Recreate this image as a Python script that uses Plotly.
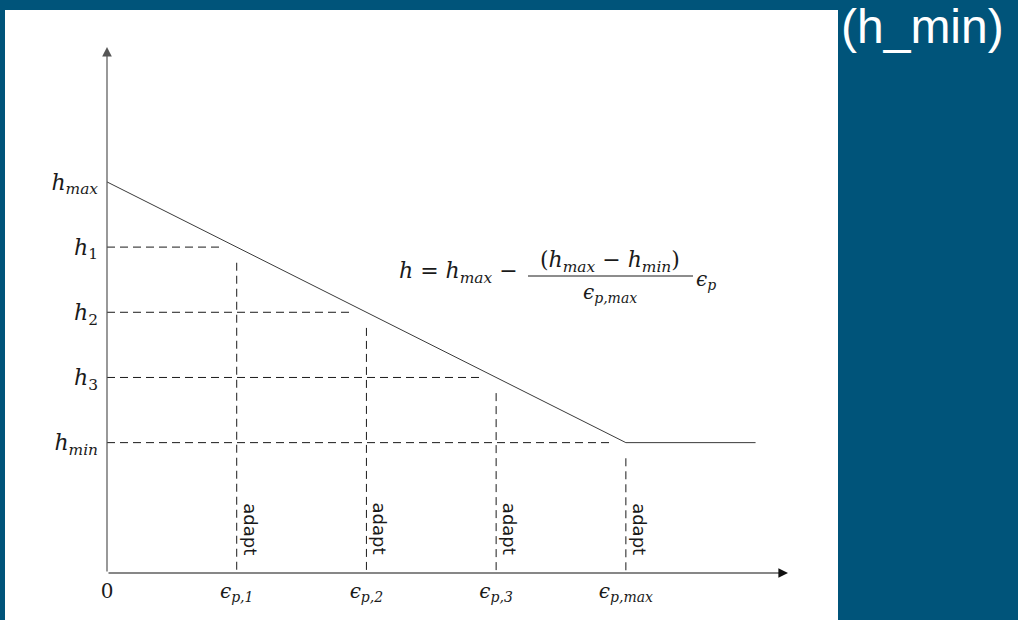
import plotly.graph_objects as go

# Plastic strain values at which the step size is adapted (x) and step sizes (y)
eps_vals = [0, 1, 2, 3, 4]
eps_ticktext = [
    "0",
    "<i>ϵ</i><sub><i>p,1</i></sub>",
    "<i>ϵ</i><sub><i>p,2</i></sub>",
    "<i>ϵ</i><sub><i>p,3</i></sub>",
    "<i>ϵ</i><sub><i>p,max</i></sub>",
]
h_vals = [6, 5, 4, 3, 2]  # h_max, h1, h2, h3, h_min
h_ticktext = [
    "<i>h</i><sub><i>max</i></sub>",
    "<i>h</i><sub>1</sub>",
    "<i>h</i><sub>2</sub>",
    "<i>h</i><sub>3</sub>",
    "<i>h</i><sub><i>min</i></sub>",
]
adapt_eps = [1, 2, 3, 4]
adapt_h = [5, 4, 3, 2]
eps_end = 5.0

# plot-area geometry (pixels)
W, H = 1018, 620
L, R, T, B = 107, 788, 47, 573
X_MAX = 5.25
PX_X = (R - L) / X_MAX
Y_MAX = 8.07
PX_Y = (B - T) / Y_MAX


def dx(p):
    return (p - L) / PX_X


def dy(p):
    return (B - p) / PX_Y


def paper_x(p):
    return (p - L) / (R - L)


def paper_y(p):
    return (B - p) / (B - T)


BLUE = "#00547a"
INK = "#1a1a1a"
SERIF = "DejaVu Serif"

fig = go.Figure()

# step size law: linear decrease down to h_min, then constant
fig.add_trace(go.Scatter(
    x=[0, eps_vals[-1], eps_end], y=[h_vals[0], h_vals[-1], h_vals[-1]],
    mode="lines", line=dict(color="#3a3a3a", width=1), hoverinfo="skip",
))

GAP_X, GAP_Y = 0.11, 0.24
for e, h in zip(adapt_eps, adapt_h):
    fig.add_trace(go.Scatter(
        x=[0, e - GAP_X], y=[h, h], mode="lines",
        line=dict(color=INK, width=1, dash="8px,5px"), hoverinfo="skip",
    ))
    fig.add_trace(go.Scatter(
        x=[e, e], y=[h - GAP_Y, 0], mode="lines",
        line=dict(color=INK, width=1, dash="8px,5px"), hoverinfo="skip",
    ))

ann = []
# axes with arrow heads
ann.append(dict(x=X_MAX, y=0, ax=0, ay=0, xref="x", yref="y", axref="x", ayref="y",
                text="", showarrow=True, arrowhead=2, arrowsize=1.6, arrowwidth=1.2,
                arrowcolor="#111111", standoff=0, startstandoff=0))
ann.append(dict(x=0, y=Y_MAX, ax=0, ay=0, xref="x", yref="y", axref="x", ayref="y",
                text="", showarrow=True, arrowhead=2, arrowsize=1.6, arrowwidth=1.2,
                arrowcolor="#555555", standoff=0, startstandoff=0))

# axis names
ann.append(dict(x=dx(105), y=dy(27), xref="x", yref="y", text="<i>h</i>",
                showarrow=False, font=dict(family=SERIF, size=18, color=INK)))
ann.append(dict(x=dx(797), y=dy(573), xref="x", yref="y", xanchor="left",
                text="<i>ϵ</i><sub><i>p</i></sub>",
                showarrow=False, font=dict(family=SERIF, size=20, color=INK)))

# "adapt" markers beside each vertical line
for e in adapt_eps:
    ann.append(dict(x=e, y=dy(529), xref="x", yref="y", xshift=14, text="adapt",
                    textangle=90, showarrow=False,
                    font=dict(family="DejaVu Sans", size=18, color=INK)))

# formula h = h_max - (h_max - h_min)/eps_p,max * eps_p
FS = 22
ann.append(dict(x=dx(520), y=dy(272), xref="x", yref="y", xanchor="right",
                text="<i>h</i> = <i>h</i><sub><i>max</i></sub> −",
                showarrow=False, font=dict(family=SERIF, size=FS, color=INK)))
ann.append(dict(x=dx(610), y=dy(261), xref="x", yref="y",
                text="(<i>h</i><sub><i>max</i></sub> − <i>h</i><sub><i>min</i></sub>)",
                showarrow=False, font=dict(family=SERIF, size=FS, color=INK)))
ann.append(dict(x=dx(610), y=dy(293), xref="x", yref="y",
                text="<i>ϵ</i><sub><i>p,max</i></sub>",
                showarrow=False, font=dict(family=SERIF, size=FS - 2, color=INK)))
ann.append(dict(x=dx(694), y=dy(280), xref="x", yref="y", xanchor="left",
                text="<i>ϵ</i><sub><i>p</i></sub>",
                showarrow=False, font=dict(family=SERIF, size=FS - 2, color=INK)))

# slide title remnant
ann.append(dict(x=paper_x(1006), y=paper_y(26), xref="paper", yref="paper",
                xanchor="right", yanchor="middle", text="(h_min)", showarrow=False,
                font=dict(family="Liberation Sans, Arial, sans-serif", size=48,
                          color="white")))

shapes = [
    # white figure panel
    dict(type="rect", xref="paper", yref="paper", layer="below",
         x0=paper_x(5), x1=paper_x(838), y0=paper_y(640), y1=paper_y(10),
         fillcolor="white", line=dict(width=0)),
    # fraction bar
    dict(type="line", xref="x", yref="y", x0=dx(528), x1=dx(693), y0=dy(276), y1=dy(276),
         line=dict(color=INK, width=1)),
]

fig.update_layout(
    width=W, height=H,
    margin=dict(l=L, r=W - R, t=T, b=H - B),
    paper_bgcolor=BLUE, plot_bgcolor="rgba(0,0,0,0)",
    showlegend=False,
    annotations=ann, shapes=shapes,
    xaxis=dict(range=[0, X_MAX], tickvals=eps_vals, ticktext=eps_ticktext,
               showgrid=False, zeroline=False, showline=False, ticks="",
               ticklabelstandoff=4,
               tickfont=dict(family=SERIF, size=20, color=INK)),
    yaxis=dict(range=[0, Y_MAX], tickvals=h_vals, ticktext=h_ticktext,
               showgrid=False, zeroline=False, showline=False, ticks="",
               ticklabelstandoff=8,
               tickfont=dict(family=SERIF, size=22, color=INK)),
)

fig.write_html("out.html")
